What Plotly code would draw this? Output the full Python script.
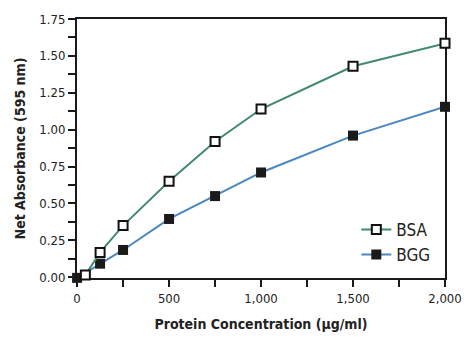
import plotly.graph_objects as go

bsa_x = [45, 125, 250, 500, 750, 1000, 1500, 2000]
bsa_y = [0.015, 0.168, 0.35, 0.65, 0.92, 1.14, 1.43, 1.585]
bgg_x = [0, 125, 250, 500, 750, 1000, 1500, 2000]
bgg_y = [-0.004, 0.092, 0.185, 0.395, 0.55, 0.71, 0.96, 1.155]

FONT = "DejaVu Sans Condensed, Liberation Sans Narrow, Arial Narrow, sans-serif"

fig = go.Figure()
fig.add_trace(go.Scatter(
    x=bgg_x, y=bgg_y, name="BGG", mode="lines+markers",
    line=dict(color="#4a87c0", width=2),
    marker=dict(symbol="square", size=10, color="#1a1a1a", line=dict(color="#1a1a1a", width=0)),
    cliponaxis=False,
))
fig.add_trace(go.Scatter(
    x=bsa_x, y=bsa_y, name="BSA", mode="lines+markers",
    line=dict(color="#3f8b6b", width=2),
    marker=dict(symbol="square", size=9, color="white", line=dict(color="#111111", width=2)),
    cliponaxis=False,
))

fig.update_layout(
    width=474, height=347,
    margin=dict(l=77, r=27, t=19, b=69),
    paper_bgcolor="white", plot_bgcolor="white",
    font=dict(family=FONT, size=13, color="#222222"),
    showlegend=True,
    legend=dict(x=0.759, y=0.255, xanchor="left", yanchor="top",
                traceorder="reversed",
                font=dict(family=FONT, size=17, color="#222222"),
                bgcolor="rgba(0,0,0,0)", tracegroupgap=0, itemwidth=30),
    xaxis=dict(
        range=[-0.5, 2000], dtick=500, tick0=0, tickformat=",d",
        showgrid=False, zeroline=False, layer="below traces",
        showline=True, linecolor="#1a1a1a", linewidth=2, mirror=True,
        ticks="outside", ticklen=7, tickwidth=2, tickcolor="#1a1a1a",
        minor=dict(dtick=250, ticks="outside", ticklen=7, tickwidth=2, tickcolor="#1a1a1a"),
        tickfont=dict(size=13),
        title=dict(text="<b>Protein Concentration (µg/ml)</b>", font=dict(size=14, family=FONT), standoff=15),
    ),
    yaxis=dict(
        range=[-0.005, 1.75], dtick=0.25, tick0=0, tickformat=".2f",
        showgrid=False, zeroline=False, layer="below traces",
        showline=True, linecolor="#1a1a1a", linewidth=2, mirror=True,
        ticks="outside", ticklen=7, tickwidth=2, tickcolor="#1a1a1a",
        minor=dict(dtick=0.125, ticks="outside", ticklen=7, tickwidth=2, tickcolor="#1a1a1a"),
        tickfont=dict(size=13),
        title=dict(text="<b>Net Absorbance (595 nm)</b>", font=dict(size=14, family=FONT), standoff=10),
    ),
)

fig.write_html("out.html")
